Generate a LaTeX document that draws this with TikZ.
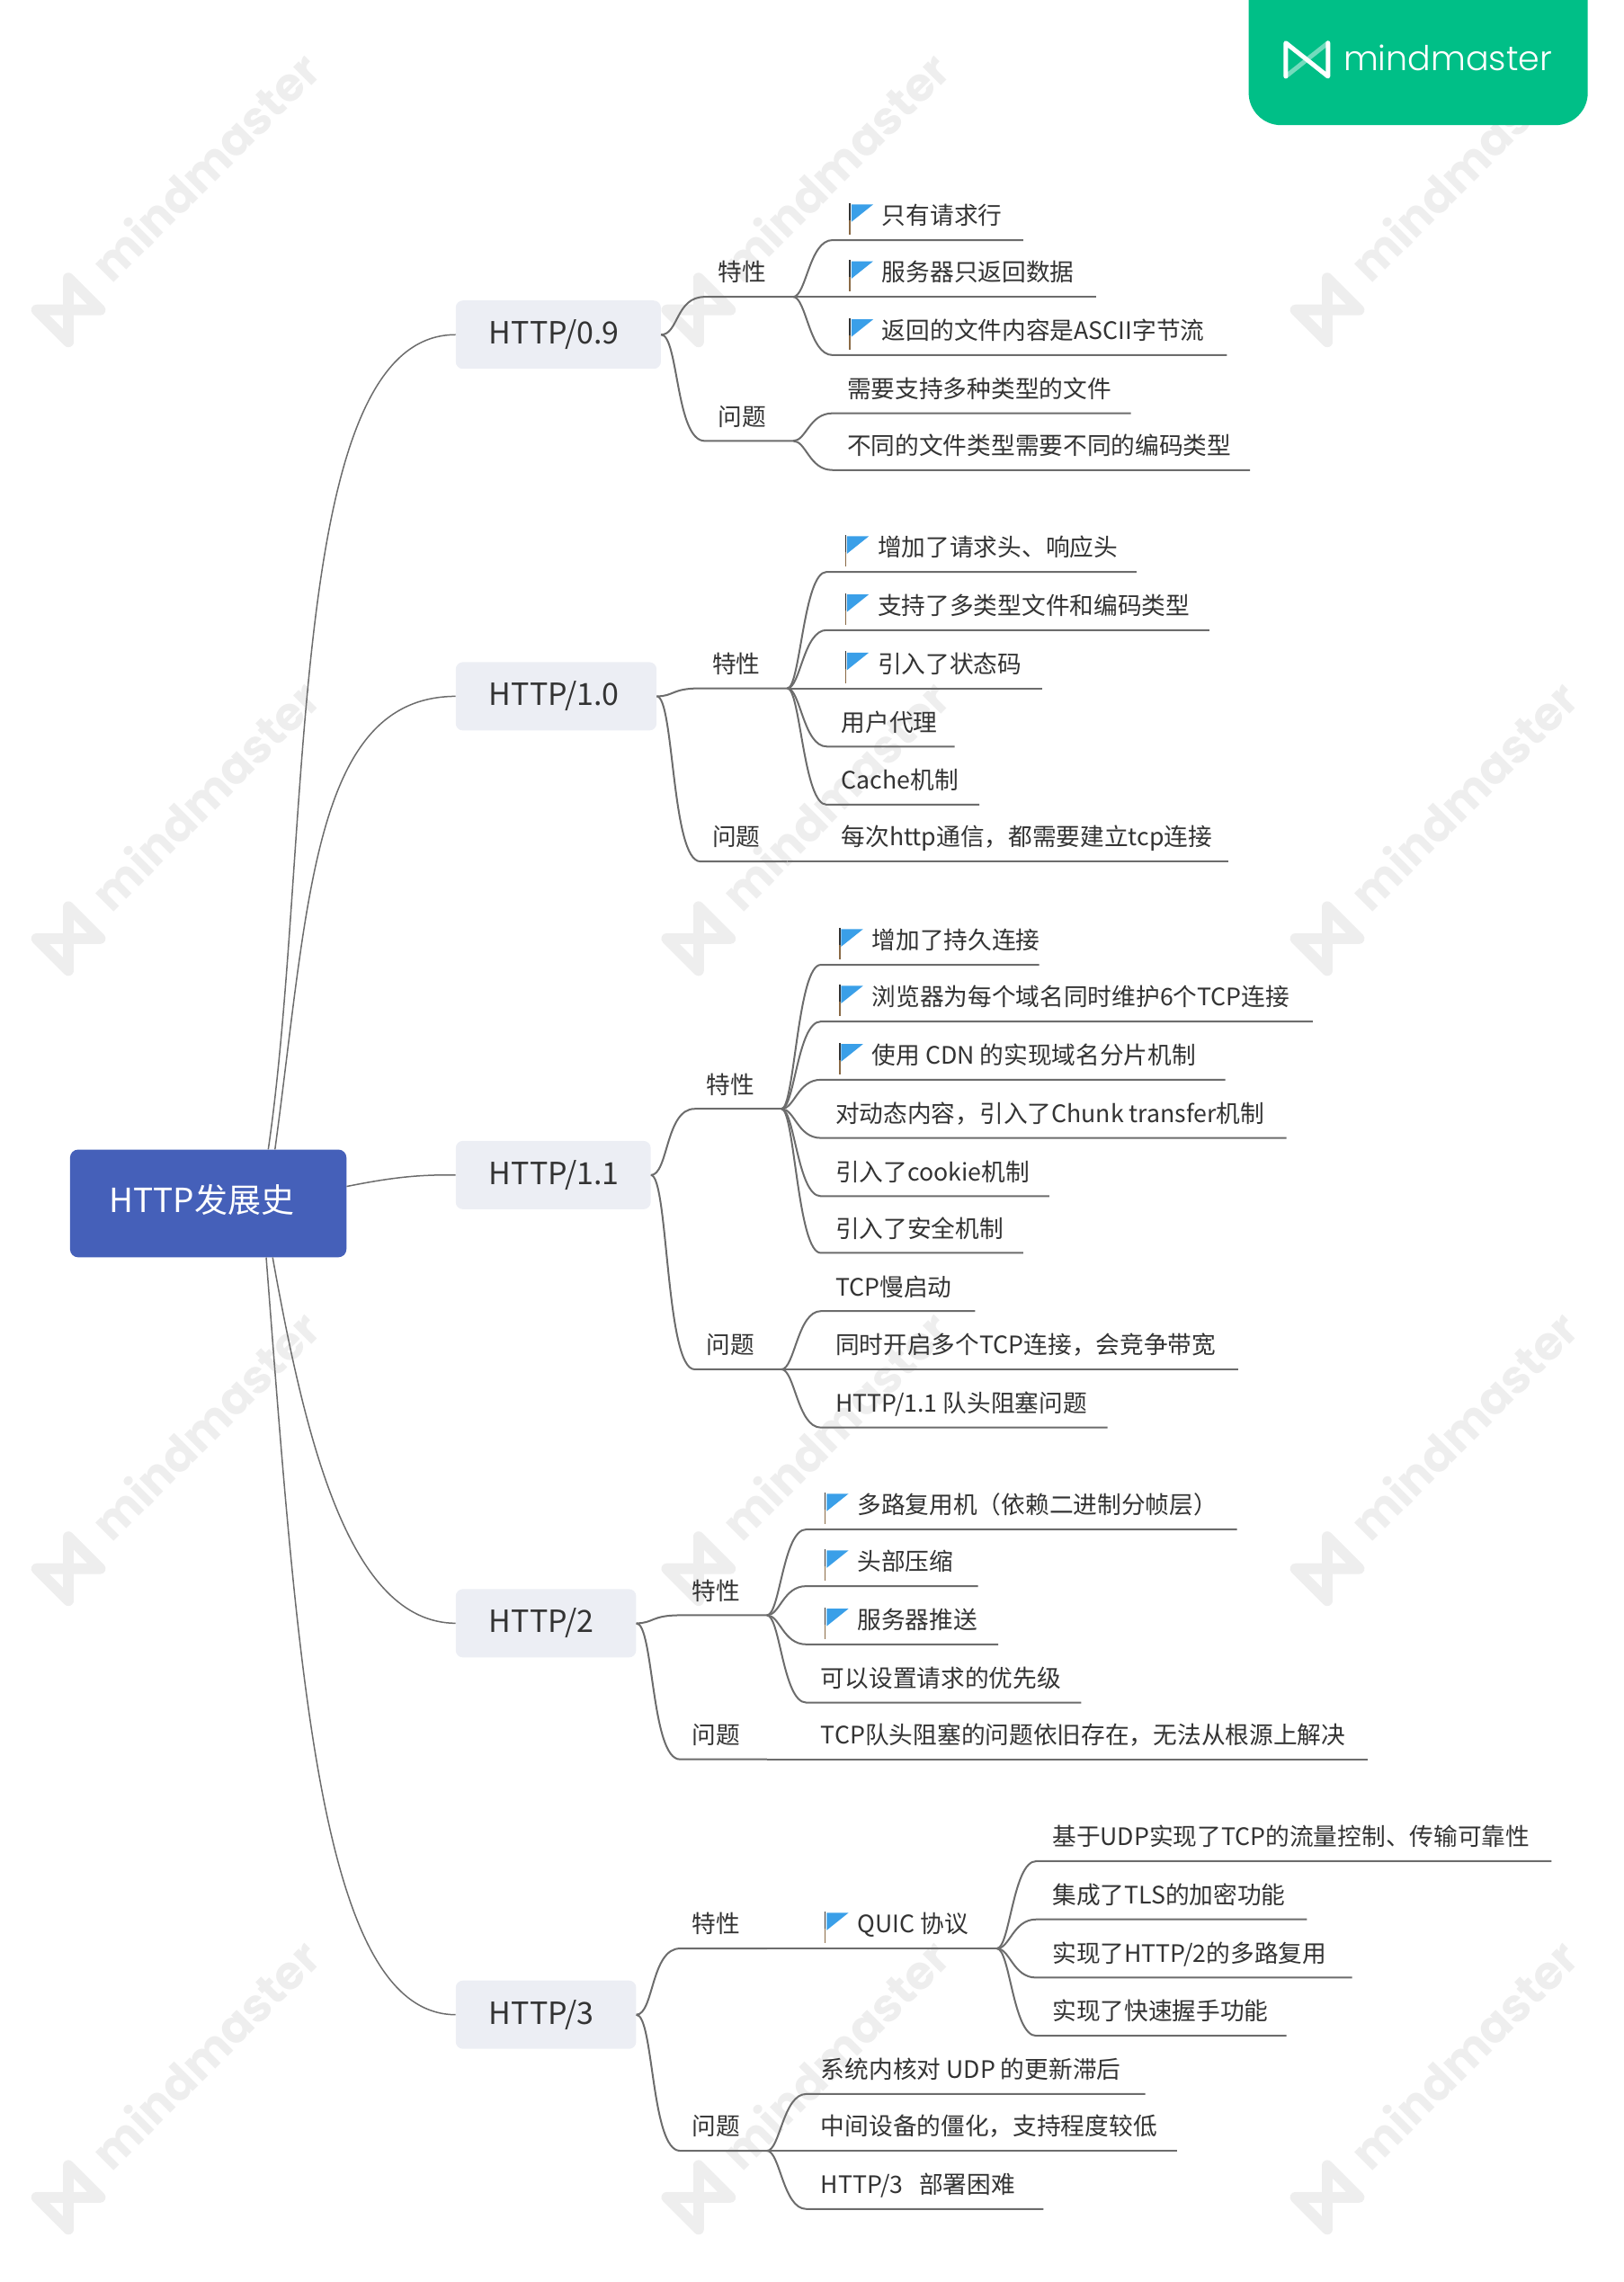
\documentclass[tikz,border=0pt]{standalone}
\usepackage{fontspec}
\setmainfont{Noto Sans CJK SC}
\newfontfamily\markfont{Poppins}
\newfontfamily\thinfont{Poppins Light}
\usetikzlibrary{calc}
\usetikzlibrary{positioning}
\definecolor{rootblue}{HTML}{4560B9}
\definecolor{topicgrey}{HTML}{ECEEF4}
\definecolor{linegrey}{HTML}{6C6C6C}
\definecolor{textgrey}{HTML}{333333}
\definecolor{flagblue}{HTML}{3A9FE8}
\definecolor{polebrown}{HTML}{8A6A45}
\definecolor{badgegreen}{HTML}{00BF87}
\definecolor{markgrey}{HTML}{EEEEEE}
\tikzset{x=1.6185pt,y=-1.6185pt,
  rootbox/.style = {fill=rootblue,text=white,rounded corners=9pt,anchor=west,align=left,
    inner xsep=43.7pt,inner ysep=0pt,minimum height=119.8pt,text width=220pt,
    text height=30pt,text depth=10.4pt,font=\fontsize{37}{40}\selectfont},
  topic/.style = {fill=topicgrey,text=textgrey,rounded corners=8pt,anchor=west,align=left,
    inner xsep=37.2pt,inner ysep=0pt,minimum height=76pt,
    text height=30pt,text depth=9.2pt,font=\fontsize{34}{36}\selectfont},
  subtopic/.style = {text=textgrey,inner sep=0pt,text height=23pt,text depth=4pt,
    font=\fontsize{26.7}{30}\selectfont},
  leaf/.style = {subtopic,anchor=west},
  branch/.style = {draw=linegrey,line width=2pt},
  trunk/.style = {draw=linegrey,line width=1.5pt},
  pics/flagicon/.style = {code={
      \fill[flagblue] (1,1) -- (16,1) -- (1,13) -- cycle;
      \draw[line width=1.5pt,draw=textgrey] (0,0) -- (0,12);
      \draw[line width=1.5pt,draw=polebrown] (0,12) -- (0,22);
    }},
  pics/mmlogo/.style n args = {3}{code={
      \draw[#1,opacity=#3,line width=#2] (-0.5,0.5) -- (0.5,-0.5);
      \draw[#1,line width=#2,line join=round,line cap=round]
        (-0.5,0.5) -- (-0.5,-0.5) -- (0.5,0.5) -- (0.5,-0.5);
    }}
}
% one line of text on its rule, curved out of a junction
\newcommand{\leafline}[6]{%
  \coordinate (#2e) at (#4,#5);
  \coordinate (#2s) at ($(#1)+(27,0)$);
  \node[leaf] (#2) at ($(#3,#5)+(0,-16.5)$) {#6};
  \draw[branch] (#1) .. controls +(9,0) and +(-16,0) .. (#2s |- #2e) -- (#2e);
}
% label of a group, with the curve from the version box to the junction
\newcommand{\groupline}[5]{%
  \coordinate (#2) at (#3,#4);
  \node[subtopic] (#2l) at ($(#2)+(-35,-16.5)$) {#5};
  \draw[branch] (#1.east) .. controls +(12,0) and +(-20,0) .. ($(#1.east |- #2)+(30,0)$) -- (#2);
}
\begin{document}
\begin{tikzpicture}
  \useasboundingbox (0,0) rectangle (1115.8,1568.2);

  % watermark
  \foreach \wx in {47,480,912}
    \foreach \wy in {213,645,1078,1510} {
      \pic[rotate=45,scale=31] at (\wx,\wy) {mmlogo={markgrey}{12pt}{1}};
      \node[text=markgrey,rotate=45,anchor=west,inner sep=0pt,font=\markfont\bfseries\fontsize{51.5}{56}\selectfont]
        (wm) at ($(\wx,\wy)+(21,-26)$) {mindmaster};
    }

  % badge
  \fill[badgegreen,rounded corners=36pt] (858,0) -- (858,86) -- (1091,86) -- (1091,0);
  \pic[xscale=29,yscale=23] at (898,41) {mmlogo={white}{5pt}{0.45}};
  \node[text=white,anchor=west,inner sep=0pt,font=\thinfont\fontsize{38}{40}\selectfont]
    (badge) at (923,40) {mindmaster};

  % root and versions
  \node[rootbox] (root) at (48,827) {HTTP发展史};
  \node[topic,text width=153.8pt] (v09) at (313,230) {HTTP/0.9};
  \node[topic,text width=149pt] (v10) at (313,478.5) {HTTP/1.0};
  \node[topic,text width=142.5pt] (v11) at (313,807.5) {HTTP/1.1};
  \node[topic,text width=126.3pt] (v2) at (313,1115.5) {HTTP/2};
  \node[topic,text width=126.3pt] (v3) at (313,1384.5) {HTTP/3};

  \draw[trunk] (root.42) .. controls (215,580) and (195,230) .. (v09.west);
  \draw[trunk] (root.39) .. controls (212,620) and (215,479) .. (v10.west);
  \draw[trunk] (root.7) .. controls (265,810) and (285,807) .. (v11.west);
  \draw[trunk] (root.-40) .. controls (210,990) and (240,1115) .. (v2.west);
  \draw[trunk] (root.-43) .. controls (205,1150) and (220,1384) .. (v3.west);

  % HTTP/0.9
  \groupline{v09}{t09}{545}{204}{特性}
  \leafline{t09}{a1}{606}{703}{165}{只有请求行}
  \leafline{t09}{a2}{606}{753}{204}{服务器只返回数据}
  \leafline{t09}{a3}{606}{843}{244}{返回的文件内容是ASCII字节流}
  \groupline{v09}{q09}{545}{303}{问题}
  \leafline{q09}{a4}{582}{777}{284}{需要支持多种类型的文件}
  \leafline{q09}{a5}{582}{859}{323}{不同的文件类型需要不同的编码类型}

  % HTTP/1.0
  \groupline{v10}{t10}{541}{473}{特性}
  \leafline{t10}{b1}{603}{781}{393}{增加了请求头、响应头}
  \leafline{t10}{b2}{603}{831}{433}{支持了多类型文件和编码类型}
  \leafline{t10}{b3}{603}{716}{473}{引入了状态码}
  \leafline{t10}{b4}{578}{656}{513}{用户代理}
  \leafline{t10}{b5}{578}{673}{553}{Cache机制}
  \groupline{v10}{q10}{541}{592}{问题}
  \leafline{q10}{b6}{578}{844}{592}{每次http通信，都需要建立tcp连接}

  % HTTP/1.1
  \groupline{v11}{t11}{537}{762}{特性}
  \leafline{t11}{c1}{599}{714}{663}{增加了持久连接}
  \leafline{t11}{c2}{599}{902}{702}{浏览器为每个域名同时维护6个TCP连接}
  \leafline{t11}{c3}{599}{842}{742}{使用 CDN 的实现域名分片机制}
  \leafline{t11}{c4}{574}{884}{782}{对动态内容，引入了Chunk transfer机制}
  \leafline{t11}{c5}{574}{721}{822}{引入了cookie机制}
  \leafline{t11}{c6}{574}{703}{861}{引入了安全机制}
  \groupline{v11}{q11}{537}{941}{问题}
  \leafline{q11}{c7}{574}{670}{901}{TCP慢启动}
  \leafline{q11}{c8}{574}{851}{941}{同时开启多个TCP连接，会竞争带宽}
  \leafline{q11}{c9}{574}{761}{981}{HTTP/1.1 队头阻塞问题}

  % HTTP/2
  \groupline{v2}{t2}{527}{1110}{特性}
  \leafline{t2}{d1}{589}{850}{1051}{多路复用机（依赖二进制分帧层）}
  \leafline{t2}{d2}{589}{672}{1090}{头部压缩}
  \leafline{t2}{d3}{589}{686}{1130}{服务器推送}
  \leafline{t2}{d4}{564}{743}{1170}{可以设置请求的优先级}
  \groupline{v2}{q2}{527}{1209}{问题}
  \leafline{q2}{d5}{564}{940}{1209}{TCP队头阻塞的问题依旧存在，无法从根源上解决}

  % HTTP/3
  \groupline{v3}{t3}{527}{1339}{特性}
  \leafline{t3}{e1}{589}{685}{1339}{QUIC 协议}
  \leafline{e1e}{e2}{723}{1066}{1279}{基于UDP实现了TCP的流量控制、传输可靠性}
  \leafline{e1e}{e3}{723}{898}{1319}{集成了TLS的加密功能}
  \leafline{e1e}{e4}{723}{929}{1359}{实现了HTTP/2的多路复用}
  \leafline{e1e}{e5}{723}{884}{1399}{实现了快速握手功能}
  \groupline{v3}{q3}{527}{1478}{问题}
  \leafline{q3}{e6}{564}{787}{1439}{系统内核对 UDP 的更新滞后}
  \leafline{q3}{e7}{564}{809}{1478}{中间设备的僵化，支持程度较低}
  \leafline{q3}{e8}{564}{717}{1518}{HTTP/3\ \ \ 部署困难}

  % flags
  \foreach \nm in {a1,a2,a3,b1,b2,b3,c1,c2,c3,d1,d2,d3,e1}
    \pic at ($(\nm.west)+(-22,-9)$) {flagicon};
\end{tikzpicture}
\end{document}
